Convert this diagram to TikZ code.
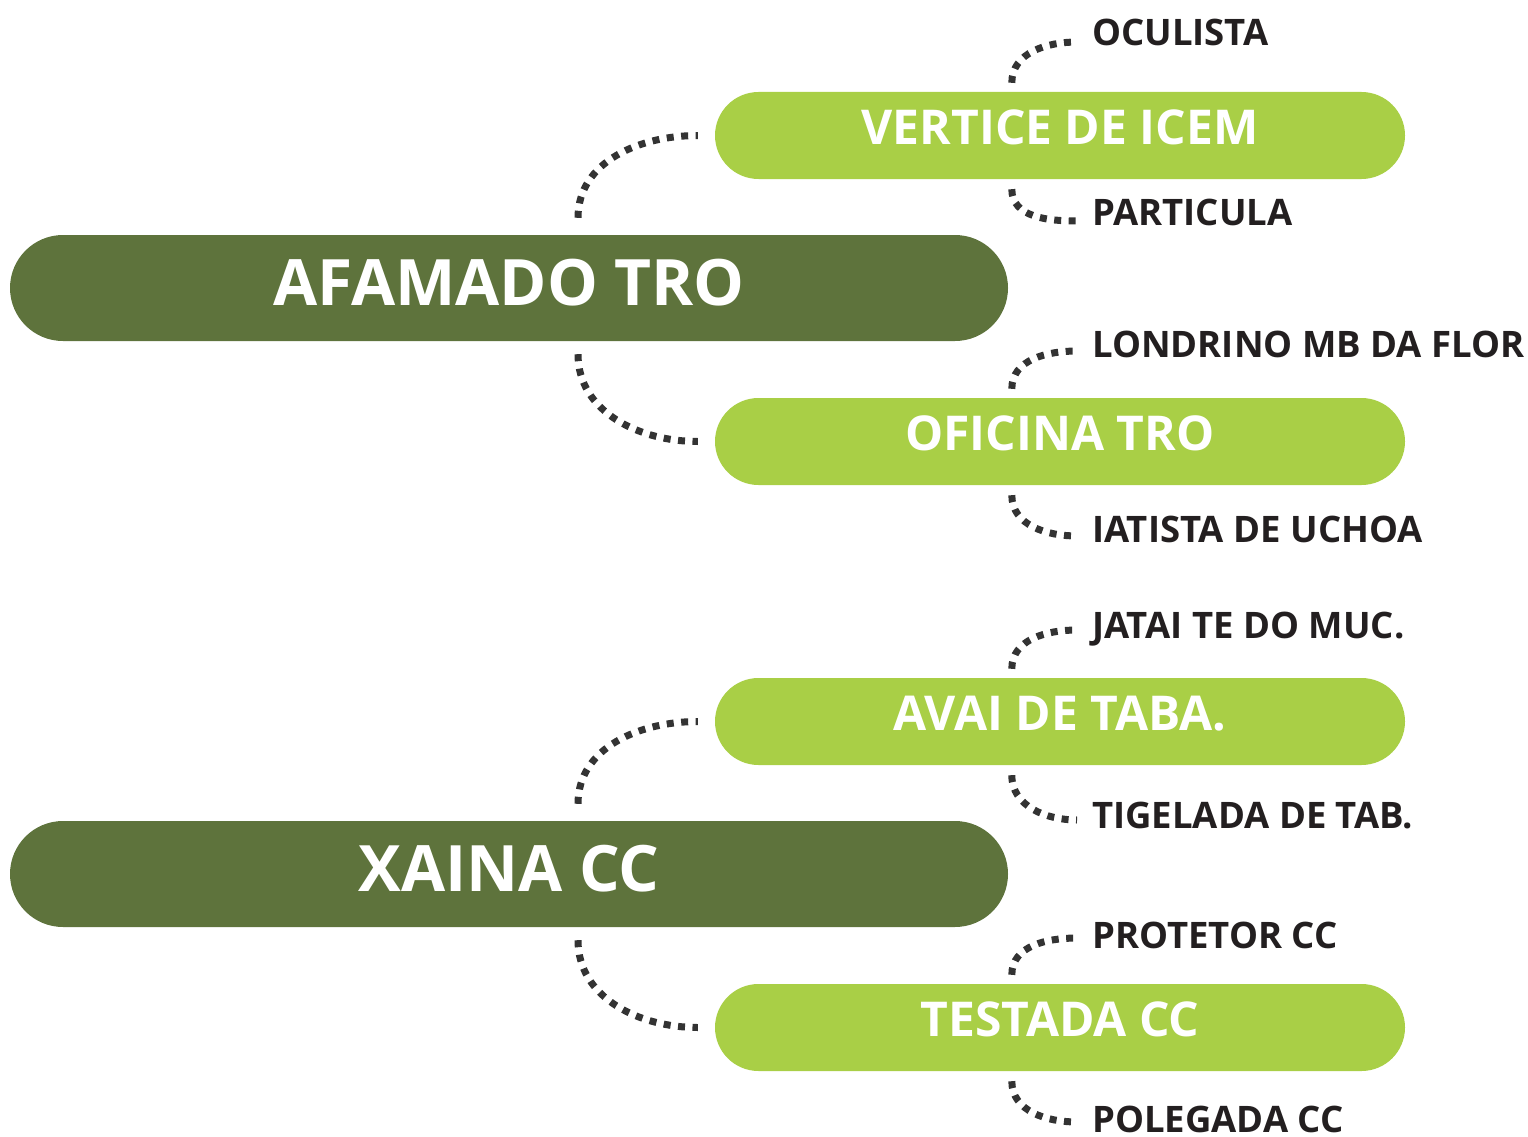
\documentclass[tikz,border=0pt]{standalone}
\usepackage{fontspec}
\setmainfont{Open Sans}
\definecolor{darkgreen}{HTML}{5E733C}
\definecolor{lightgreen}{HTML}{A9CF46}
\definecolor{dotgray}{HTML}{333333}
\definecolor{ink}{HTML}{231F20}
\begin{document}
\begin{tikzpicture}[x=1pt,y=-1pt,
main/.style={fill=darkgreen,rounded corners=53pt,minimum width=998pt,minimum height=106pt,
  text=white,font=\fontsize{64}{64}\selectfont\bfseries,text height=46pt,text depth=12pt},
sub/.style={fill=lightgreen,rounded corners=43.5pt,minimum width=690pt,minimum height=87pt,
  text=white,font=\fontsize{48}{48}\selectfont\bfseries,text height=35pt,text depth=17pt},
leaf/.style={anchor=base west,inner sep=0pt,text=ink,font=\fontsize{36.5}{36.5}\selectfont\bfseries},
dots/.style={draw=dotgray,line width=7pt,dash pattern=on 7pt off 7.5pt}]
\useasboundingbox(0,0)rectangle(1528,1137);
% first group
\node[main](afa)at(509,288){AFAMADO TRO};
\node[sub](vert)at(1060,135.5){VERTICE DE ICEM};
\node[sub](ofi)at(1060,441.5){OFICINA TRO};
\node[leaf](ocu)at(1092,46){OCULISTA};
\node[leaf](par)at(1092,225){PARTICULA};
\node[leaf](lon)at(1092,357){LONDRINO MB DA FLOR};
\node[leaf](iat)at(1092,542){IATISTA DE UCHOA};
\draw[dots]([xshift=69pt,yshift=17pt]afa.north)to[out=90,in=180]([xshift=-17pt]vert.west);
\draw[dots]([xshift=69pt,yshift=-13pt]afa.south)to[out=-90,in=180]([xshift=-17pt]ofi.west);
\draw[dots]([xshift=297pt,yshift=9pt]vert.north west)to[out=90,in=180]([xshift=-15pt,yshift=4pt]ocu.base west);
\draw[dots]([xshift=297pt,yshift=-10pt]vert.south west)to[out=-90,in=180]([xshift=-15pt,yshift=4pt]par.base west);
\draw[dots]([xshift=297pt,yshift=9pt]ofi.north west)to[out=90,in=180]([xshift=-15pt,yshift=6pt]lon.base west);
\draw[dots]([xshift=297pt,yshift=-10pt]ofi.south west)to[out=-90,in=180]([xshift=-15pt,yshift=6pt]iat.base west);
% second group
\node[main](xai)at(509,874){XAINA CC};
\node[sub](ava)at(1060,721.5){AVAI DE TABA.};
\node[sub](tes)at(1060,1027.5){TESTADA CC};
\node[leaf](jat)at(1092,638){JATAI TE DO MUC.};
\node[leaf](tig)at(1092,828){TIGELADA DE TAB.};
\node[leaf](pro)at(1092,948){PROTETOR CC};
\node[leaf](pol)at(1092,1132){POLEGADA CC};
\draw[dots]([xshift=69pt,yshift=17pt]xai.north)to[out=90,in=180]([xshift=-17pt]ava.west);
\draw[dots]([xshift=69pt,yshift=-13pt]xai.south)to[out=-90,in=180]([xshift=-17pt]tes.west);
\draw[dots]([xshift=297pt,yshift=9pt]ava.north west)to[out=90,in=180]([xshift=-15pt,yshift=8pt]jat.base west);
\draw[dots]([xshift=297pt,yshift=-10pt]ava.south west)to[out=-90,in=180]([xshift=-15pt,yshift=8pt]tig.base west);
\draw[dots]([xshift=297pt,yshift=9pt]tes.north west)to[out=90,in=180]([xshift=-15pt,yshift=10pt]pro.base west);
\draw[dots]([xshift=297pt,yshift=-10pt]tes.south west)to[out=-90,in=180]([xshift=-15pt,yshift=10pt]pol.base west);
\end{tikzpicture}
\end{document}
